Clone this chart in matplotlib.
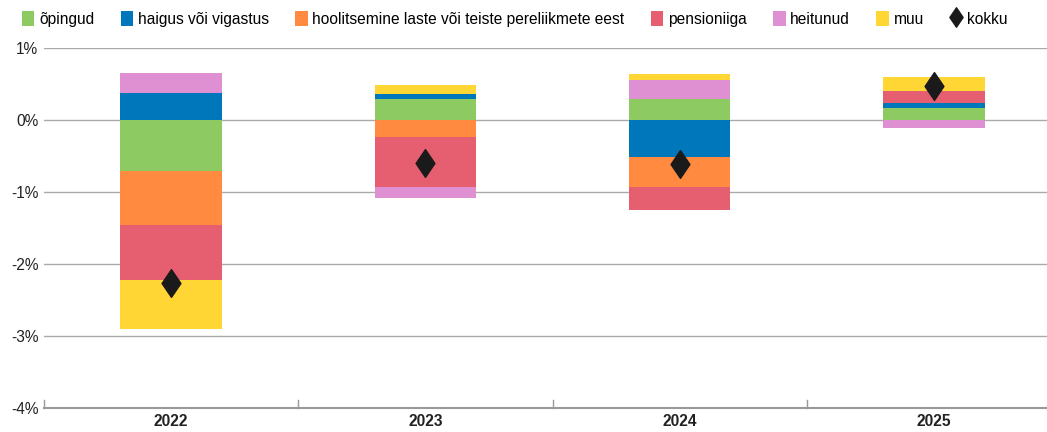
import matplotlib.pyplot as plt
from matplotlib.path import Path
import numpy as np

years = ['2022', '2023', '2024', '2025']
names = ['õpingud', 'haigus või vigastus', 'hoolitsemine laste või teiste pereliikmete eest',
         'pensioniiga', 'heitunud', 'muu']
colors = ['#8DCB62', '#0077BB', '#FF8A40', '#E65F70', '#DE90D2', '#FFD633']

opingud = [-0.71, 0.285, 0.29, 0.167]
haigus = [0.38, 0.08, -0.515, 0.065]
hoolitsemine = [-0.746, -0.24, -0.41, 0.0]
pension = [-0.77, -0.685, -0.32, 0.167]
heitunud = [0.27, -0.16, 0.265, -0.11]
muu = [-0.675, 0.125, 0.09, 0.195]
kokku = [-2.27, -0.60, -0.615, 0.475]

series = [opingud, haigus, hoolitsemine, pension, heitunud, muu]

plt.rcParams['font.family'] = ['Liberation Sans', 'DejaVu Sans']

# diamond a bit taller than wide
diamond = Path([(0, 1), (0.68, 0), (0, -1), (-0.68, 0), (0, 1)],
               [Path.MOVETO, Path.LINETO, Path.LINETO, Path.LINETO, Path.CLOSEPOLY])

fig = plt.figure(figsize=(10.47, 4.32), dpi=100)
ax = fig.add_axes([44 / 1047, 1 - 408 / 432, (1061 - 44) / 1047, 360 / 432])

x = np.arange(len(years))
pos = np.zeros(len(years))
neg = np.zeros(len(years))
handles = []
for vals, c, n in zip(series, colors, names):
    v = np.array(vals)
    bottom = np.where(v >= 0, pos, neg)
    h = ax.bar(x, v, 0.4, bottom=bottom, color=c, label=n, zorder=3)
    handles.append(h)
    pos = pos + np.where(v >= 0, v, 0)
    neg = neg + np.where(v < 0, v, 0)

dia, = ax.plot(x, kokku, linestyle='none', marker=diamond, markersize=20, color='#1a1a1a',
               label='kokku', zorder=4)
handles.append(dia)

ax.set_xlim(-0.5, 3.5)
ax.set_ylim(-4, 1)
ax.set_yticks([1, 0, -1, -2, -3, -4])
ax.set_yticklabels(['1%', '0%', '-1%', '-2%', '-3%', '-4%'], fontsize=11.2, color='#222222')
ax.yaxis.grid(True, color='#aaaaaa', linewidth=1, zorder=0)
ax.tick_params(axis='y', length=0, pad=4)

ax.set_xticks(x)
ax.set_xticklabels(years, fontsize=11.2, fontweight='bold', color='#222222')
ax.tick_params(axis='x', length=0, pad=4)
for b in [-0.5, 0.5, 1.5, 2.5]:
    ax.plot([b, b], [-4, -3.89], color='#999999', linewidth=1, zorder=2, clip_on=False)

for s in ['top', 'right', 'left']:
    ax.spines[s].set_visible(False)
ax.spines['bottom'].set_color('#999999')
ax.spines['bottom'].set_linewidth(1.5)

fig.legend(handles=handles, labels=names + ['kokku'], loc='upper left',
           bbox_to_anchor=(11 / 1047, 1.0), ncol=7, frameon=False,
           fontsize=11.2, handlelength=0.8, handleheight=1.1, handletextpad=0.3,
           columnspacing=1.7, markerscale=0.7, borderaxespad=0.3)

fig.savefig('out.png', dpi=100)
